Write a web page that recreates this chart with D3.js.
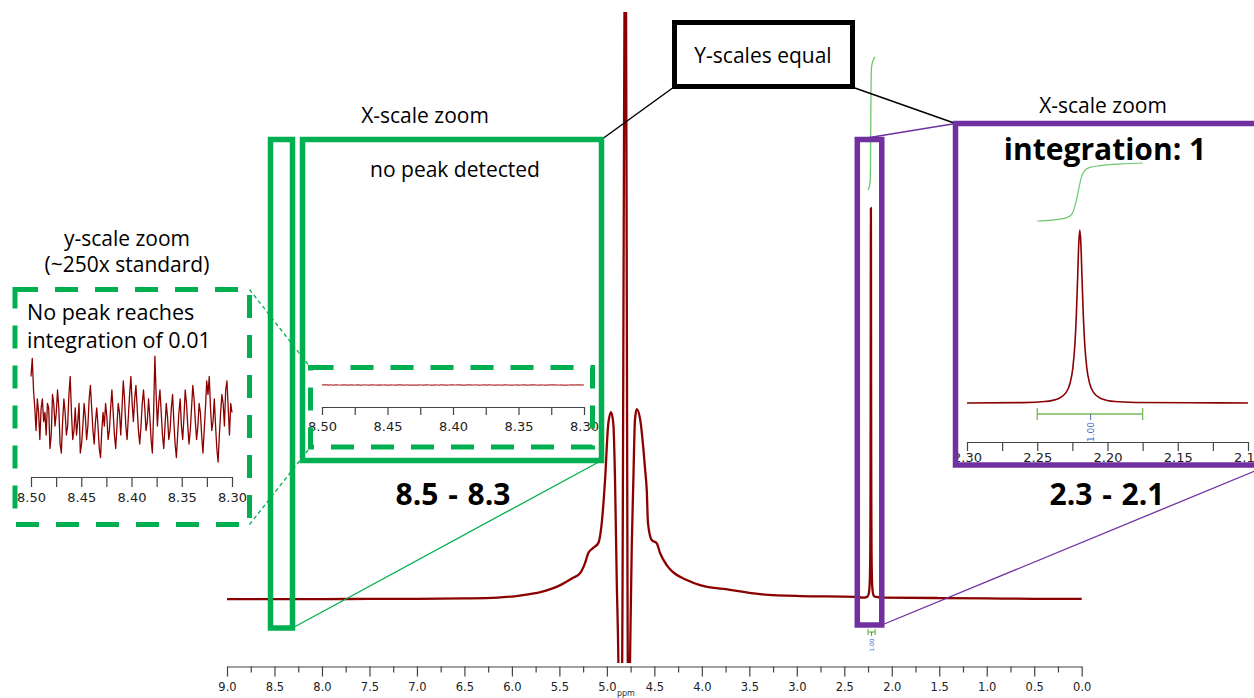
<!DOCTYPE html>
<html>
<head>
<meta charset="utf-8">
<title>NMR spectrum: x-scale and y-scale zoom</title>
<style>
  body { margin: 0; background: #fff; }
  svg { display: block; }
  .ann { font-family: "Open Sans", sans-serif; fill: #000; }
</style>
</head>
<body>
<svg id="chart" width="1254" height="698"></svg>
<script src="https://cdn.jsdelivr.net/npm/d3@7/dist/d3.min.js"></script>
<script>
// ---- data (ppm, intensity; 2.22 peak = 1) ----
var mainSpec = [
  [9.00,0.002],[8.50,0.002],[8.00,0.002],[7.50,0.003],[7.00,0.003],[6.50,0.004],
  [6.15,0.006],[5.90,0.012],[5.70,0.020],[5.49,0.038],[5.36,0.056],[5.28,0.069],
  [5.23,0.094],[5.195,0.120],[5.143,0.133],[5.09,0.145],[5.054,0.196],[5.019,0.306],
  [4.985,0.450],[4.956,0.479],[4.932,0.450],[4.914,0.306],[4.896,0.050],[4.879,-0.153],
  [4.872,-0.30],[4.845,-0.30],[4.805,1.80],[4.775,-0.30],[4.765,-0.30],[4.756,-0.153],
  [4.738,0.135],[4.721,0.306],[4.704,0.460],[4.686,0.487],[4.649,0.460],[4.617,0.390],
  [4.596,0.330],[4.580,0.280],[4.567,0.196],[4.528,0.153],[4.475,0.145],[4.440,0.120],
  [4.370,0.089],[4.303,0.071],[4.159,0.051],[4.019,0.038],[3.703,0.026],[3.387,0.015],
  [2.966,0.010],[2.388,0.008]
];
var mainTail = [[1.50,0.005],[1.00,0.004],[0.50,0.003],[0.00,0.003]];

// the singlet near 2.22 ppm (used in the main trace and in the purple zoom)
var peakSpec = [
  [2.30,0.006],[2.26,0.008],[2.2447,0.014],[2.2347,0.032],[2.2297,0.064],[2.2267,0.118],
  [2.2247,0.205],[2.2232,0.343],[2.2222,0.505],[2.2212,0.740],[2.2204,0.930],[2.2197,1.000],
  [2.2190,0.930],[2.2182,0.740],[2.2172,0.505],[2.2162,0.343],[2.2147,0.205],[2.2127,0.118],
  [2.2097,0.064],[2.2047,0.032],[2.1947,0.014],[2.18,0.009],[2.14,0.007],[2.10,0.006]
];

// integral trace over the singlet (0 -> 1)
var integralPts = [
  [2.250,0.00],[2.240,0.015],[2.232,0.04],[2.227,0.08],[2.2245,0.16],[2.2225,0.32],
  [2.2205,0.55],[2.2185,0.76],[2.2165,0.86],[2.213,0.92],[2.205,0.955],[2.190,0.985],[2.175,1.00]
];
var integralRange = [2.25, 2.175];
var integralMark = 2.212;
var integralLabel = "1.00";

// baseline noise between 8.50 and 8.30 ppm (arbitrary units, ~250x)
var noiseRange = [8.50, 8.30];
var noise = [
   0.9, 1.3, 0.6, 0.2,-0.3, 0.4, 0.1,-0.5, 0.2, 0.4,
  -0.1, 0.1,-0.4, 0.3, 0.2,-0.7,-0.4, 0.5, 0.3,-0.2,
   0.1, 0.6, 0.2,-0.6,-0.8,-0.1, 0.4, 0.1,-0.4,-0.2,
   0.5, 0.9, 0.1,-0.5,-0.3, 0.2,-0.4,-0.1, 0.3,-0.8,
  -0.6,-0.2, 0.3, 0.0,-0.5,-0.2, 0.4, 0.7, 0.2,-0.3,
  -0.6,-0.1, 0.2,-0.2,-0.7,-0.9,-0.3, 0.1,-0.2, 0.3,
   0.0,-0.5,-0.3, 0.2, 0.6, 0.1,-0.4,-0.7,-0.2, 0.3,
   0.1,-0.4, 0.2, 0.8, 0.4,-0.2,-0.5, 0.0, 0.5, 0.9,
   0.3,-0.1, 0.4, 0.7, 0.2,-0.3,-0.6,-0.2, 0.3, 0.6,
   0.2,-0.3,-0.1, 0.4, 0.0,-0.5,-0.8, 0.1, 1.35, 0.5,
  -0.2, 0.3, 0.6, 0.1,-0.4,-0.7,-0.2, 0.3, 0.0,-0.5,
  -0.3, 0.2, 0.5,-0.1,-0.6,-0.9,-0.4, 0.1, 0.4,-0.2,
  -0.5, 0.0, 0.6, 0.3,-0.2,-0.6,-0.3, 0.2, 0.7, 0.4,
  -0.1,-0.5,-0.2, 0.3, 0.1,-0.4,-0.8,-0.3, 0.2, 0.8,
   0.5, 0.9, 0.2,-0.3,-0.1, 0.4,-0.2,-0.7,-1.0,-0.4,
   0.1, 0.5, 0.3,-0.2, 0.6, 0.8, 0.2,-0.4, 0.3, 0.1
];

// tick values
var mainTicks = [9.0,8.75,8.5,8.25,8.0,7.75,7.5,7.25,7.0,6.75,6.5,6.25,6.0,5.75,5.5,5.25,5.0,
  4.75,4.5,4.25,4.0,3.75,3.5,3.25,3.0,2.75,2.5,2.25,2.0,1.75,1.5,1.25,1.0,0.75,0.5,0.25,0.0];
var zoomTicksA = [8.50,8.475,8.45,8.425,8.40,8.375,8.35,8.325,8.30];
var zoomTicksB = [2.30,2.275,2.25,2.225,2.20,2.175,2.15,2.125,2.10];

// colours
var RED = "#8b0000", GREEN = "#00b050", PURPLE = "#7030a0";
var INT_GREEN = "#6cc86c", BRACKET_GREEN = "#77bb55", BLUE = "#4a6cc0";

var svg = d3.select("#chart");
var defs = svg.append("defs");

// ---- scales ----
var x = d3.scaleLinear().domain([9, 0]).range([227, 1081.7]);
var y = d3.scaleLinear().domain([0, 1]).range([600, 208]);
var yIntMain = d3.scaleLinear().domain([0, 1]).range([190, 57]);

var xA = d3.scaleLinear().domain(noiseRange).range([322, 584]);       // green x-zoom
var yA = d3.scaleLinear().domain([-1, 1]).range([385.2, 384.8]);       // same y-scale: flat
var xN = d3.scaleLinear().domain(noiseRange).range([31, 232]);        // y-scale zoom
var yN = d3.scaleLinear().domain([-1, 1]).range([462, 372]);

var xB = d3.scaleLinear().domain([2.30, 2.10]).range([967, 1248]);    // purple x-zoom
var yB = d3.scaleLinear().domain([0, 1]).range([404, 230]);
var yIntB = d3.scaleLinear().domain([0, 1]).range([221, 163]);

var noiseStep = (noiseRange[0] - noiseRange[1]) / (noise.length - 1);
var noisePts = noise.map(function (v, i) { return [noiseRange[0] - i * noiseStep, v]; });

function isHalf(d) { return Math.abs(d * 2 - Math.round(d * 2)) < 1e-6; }
function isTwentieth(d) { return Math.abs(d * 20 - Math.round(d * 20)) < 1e-6; }

function drawAxis(yPos, scale, values, isMajor, majorLen, minorLen, fmt, fontSize, pad, color) {
  var g = svg.append("g").attr("transform", "translate(0," + yPos + ")");
  g.call(d3.axisBottom(scale).tickValues(values).tickSize(majorLen)
    .tickSizeOuter(0).tickPadding(pad).tickFormat(d3.format(fmt)));
  g.attr("font-family", "DejaVu Sans, Verdana, sans-serif").attr("font-size", fontSize);
  g.select(".domain").attr("stroke", color).attr("stroke-width", 1.2);
  g.selectAll(".tick line").attr("stroke", color).attr("stroke-width", 1.2);
  g.selectAll(".tick text").attr("fill", "#222");
  g.selectAll(".tick").filter(function (d) { return !isMajor(d); })
    .each(function () {
      d3.select(this).select("line").attr("y2", minorLen);
      d3.select(this).select("text").remove();
    });
  return g;
}

// ---- main spectrum ----
defs.append("clipPath").attr("id", "mainClip")
  .append("rect").attr("x", 215).attr("y", 12).attr("width", 880).attr("height", 651);

var specLine = d3.line()
  .x(function (d) { return x(d[0]); })
  .y(function (d) { return y(d[1]); })
  .curve(d3.curveMonotoneX);

var fullSpec = mainSpec.concat(peakSpec, mainTail);
svg.append("path").datum(fullSpec)
  .attr("clip-path", "url(#mainClip)")
  .attr("d", specLine)
  .attr("fill", "none").attr("stroke", RED).attr("stroke-width", 2.3)
  .attr("stroke-linejoin", "round");

// integral on main
svg.append("path").datum(integralPts)
  .attr("d", d3.line().x(function (d) { return x(d[0]); }).y(function (d) { return yIntMain(d[1]); })
    .curve(d3.curveMonotoneX))
  .attr("fill", "none").attr("stroke", INT_GREEN).attr("stroke-width", 1.3);

function drawBracket(sx, yPos, cap, tick, labelSize, labelDy) {
  var g = svg.append("g");
  g.append("line").attr("x1", sx(integralRange[0])).attr("x2", sx(integralRange[1]))
    .attr("y1", yPos).attr("y2", yPos).attr("stroke", BRACKET_GREEN).attr("stroke-width", 1.3);
  integralRange.forEach(function (p) {
    g.append("line").attr("x1", sx(p)).attr("x2", sx(p))
      .attr("y1", yPos - cap).attr("y2", yPos + cap)
      .attr("stroke", BRACKET_GREEN).attr("stroke-width", 1.3);
  });
  g.append("line").attr("x1", sx(integralMark)).attr("x2", sx(integralMark))
    .attr("y1", yPos).attr("y2", yPos + tick).attr("stroke", BLUE).attr("stroke-width", 1);
  g.append("text")
    .attr("transform", "translate(" + (sx(integralMark) + labelSize * 0.35) + "," + (yPos + tick + labelDy) + ") rotate(-90)")
    .attr("text-anchor", "middle")
    .attr("font-family", "DejaVu Sans, sans-serif").attr("font-size", labelSize)
    .attr("fill", BLUE).text(integralLabel);
}
drawBracket(x, 632, 3, 4, 6, 9);

drawAxis(666.5, x, mainTicks, isHalf, 10, 6, ".1f", 11.5, 6, "#444");
svg.append("text").attr("x", x(4.8)).attr("y", 696).attr("text-anchor", "middle")
  .attr("font-family", "DejaVu Sans, sans-serif").attr("font-size", 8).attr("fill", "#333").text("ppm");

// ---- y-scale zoom (left) ----
var noiseLine = d3.line().x(function (d) { return xN(d[0]); }).y(function (d) { return yN(d[1]); });
svg.append("path").datum(noisePts).attr("d", noiseLine)
  .attr("fill", "none").attr("stroke", RED).attr("stroke-width", 1.3).attr("stroke-linejoin", "round");
drawAxis(477, xN, zoomTicksA, isTwentieth, 10, 10, ".2f", 13, 6, "#444");

// ---- green x-zoom (same y-scale) ----
svg.append("path").datum(noisePts)
  .attr("d", d3.line().x(function (d) { return xA(d[0]); }).y(function (d) { return yA(d[1]); }))
  .attr("fill", "none").attr("stroke", "#b03030").attr("stroke-width", 1.2);
drawAxis(407, xA, zoomTicksA, isTwentieth, 8, 8, ".2f", 13, 7, "#444");

// ---- purple x-zoom ----
svg.append("path").datum(peakSpec)
  .attr("d", d3.line().x(function (d) { return xB(d[0]); }).y(function (d) { return yB(d[1]); })
    .curve(d3.curveMonotoneX))
  .attr("fill", "none").attr("stroke", RED).attr("stroke-width", 1.6);
svg.append("path").datum(integralPts)
  .attr("d", d3.line().x(function (d) { return xB(d[0]); }).y(function (d) { return yIntB(d[1]); })
    .curve(d3.curveMonotoneX))
  .attr("fill", "none").attr("stroke", INT_GREEN).attr("stroke-width", 1.2);
drawBracket(xB, 414, 6, 6, 9, 12);
drawAxis(442, xB, zoomTicksB, isTwentieth, 9, 9, ".2f", 13, 2, "#444");

// ---- annotation boxes and connectors ----
var ann = svg.append("g");
function box(x0, y0, x1, y1, color, w, dash) {
  var r = ann.append("rect").attr("x", x0).attr("y", y0)
    .attr("width", x1 - x0).attr("height", y1 - y0)
    .attr("fill", "none").attr("stroke", color).attr("stroke-width", w);
  if (dash) r.attr("stroke-dasharray", dash);
  return r;
}
function link(x0, y0, x1, y1, color, w, dash) {
  var l = ann.append("line").attr("x1", x0).attr("y1", y0).attr("x2", x1).attr("y2", y1)
    .attr("stroke", color).attr("stroke-width", w);
  if (dash) l.attr("stroke-dasharray", dash);
}

// selections on the main spectrum
var gSel = [x(noiseRange[0]) - 4, x(noiseRange[1]) - 1];
var pSel = [x(2.30) - 6, x(2.10) - 0.5];

link(gSel[1], 628, 601.5, 460.5, GREEN, 1.3);
link(249.5, 289.5, 310.5, 367.5, GREEN, 1.3, "4,3");
link(249.5, 524.5, 310.5, 447, GREEN, 1.3, "4,3");
link(pSel[0], 139.5, 955.5, 123.5, PURPLE, 1.3);
link(pSel[1], 625, 1267, 466, PURPLE, 1.3);
link(674, 87, 601.5, 139.5, "#000", 1.5);
link(852, 87, 955.5, 123.5, "#000", 1.5);

box(gSel[0], 139.5, gSel[1], 628, GREEN, 5.5);
box(302.5, 139.5, 601.5, 460.5, GREEN, 5.5);
box(310.5, 367.5, 592.5, 447, GREEN, 5, "23,17");
box(15, 289.5, 249.5, 524.5, GREEN, 5, "23,17");
box(pSel[0], 139.5, pSel[1], 625, PURPLE, 5.5);
box(955.5, 123.5, 1267, 465, PURPLE, 5.5);
box(674.5, 22.5, 852.5, 86.5, "#000", 5);

// ---- annotation text ----
function label(tx, ty, str, size, anchor, weight) {
  return ann.append("text").attr("class", "ann").attr("x", tx).attr("y", ty)
    .attr("text-anchor", anchor || "middle").attr("font-size", size)
    .attr("font-weight", weight || 400).text(str);
}
label(425, 123, "X-scale zoom", 21);
label(455, 177, "no peak detected", 21);
label(127, 246, "y-scale zoom", 21);
label(127, 272, "(~250x standard)", 21);
label(27, 320, "No peak reaches", 21.5, "start");
label(27, 348, "integration of 0.01", 21.5, "start");
label(763, 63, "Y-scales equal", 21);
label(1103, 113, "X-scale zoom", 21);
label(1105, 160, "integration: 1", 30, "middle", 700);
label(453, 505, "8.5 - 8.3", 30, "middle", 700).attr("word-spacing", 2);
label(1107, 505, "2.3 - 2.1", 30, "middle", 700).attr("word-spacing", 2);
</script>
</body>
</html>
